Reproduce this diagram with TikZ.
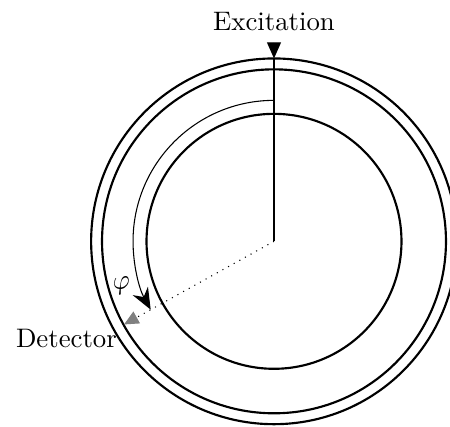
\documentclass[tikz,border=0pt]{standalone}
\usepackage{amsmath}
\usepackage{tikz}
\usetikzlibrary{positioning, arrows.meta, calc}

\begin{document}
\begin{tikzpicture}[>=Latex,
                    ring/.style={thick},
                    beam tip/.style={-{Triangle[length=6pt, width=5.2pt]}},
                    det tip/.style={-{Triangle[length=5.4pt, width=5pt, color=gray]}}]
    % Frame
    \clip (-3.596, -2.424) rectangle (2.310, 3.167);
    \coordinate (O) at (0, 0);

    % Rings
    \draw[ring] (O) circle(2.40);
    \draw[ring] (O) circle(2.257);
    \draw[ring] (O) circle(1.673);

    % Excitation
    \coordinate (top) at (90:2.40);
    \node[anchor=base] (exc) at (0, 2.77) {Excitation};
    \draw[beam tip, shorten <=1pt] (exc.south) -- (top);
    \draw (top) -- (O);

    % Detector
    \coordinate (det) at (209:2.25);
    \draw[dotted, det tip] (O) -- (det);
    \node[anchor=north east, inner sep=3.33pt] (detector) at ($(det)+(0.03,0.06)$) {Detector};

    % Angle
    \coordinate (arcstart) at (90:1.85);
    \draw[-{Stealth[length=8pt, width=6.5pt]}] (arcstart) arc[start angle=90, end angle=209, radius=1.85];
    \node[rotate=10] (phi) at (-1.995, -0.587) {$\varphi$};
\end{tikzpicture}
\end{document}
